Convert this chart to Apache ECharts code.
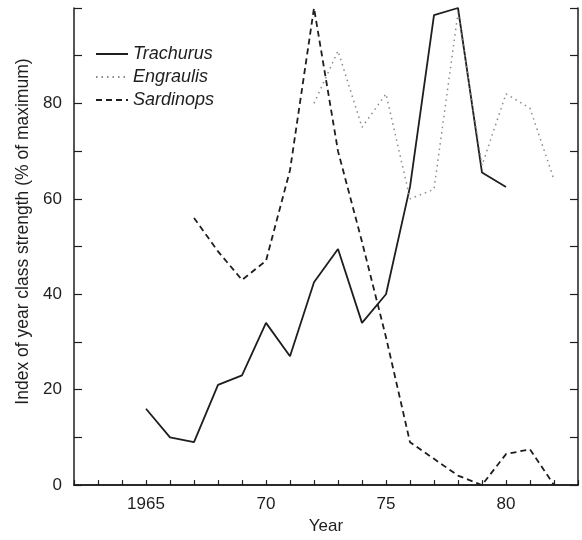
<!DOCTYPE html>
<html>
<head>
<meta charset="utf-8">
<script src="https://cdn.jsdelivr.net/npm/echarts@6/dist/echarts.min.js"></script>
<style>
  html, body { margin: 0; padding: 0; background: #fff; }
  #main { width: 582px; height: 540px; }
</style>
</head>
<body>
<div id="main"></div>
<script>
// year class strength, % of maximum
var trachurusYears = [1965, 1966, 1967, 1968, 1969, 1970, 1971, 1972, 1973, 1974, 1975, 1976, 1977, 1978, 1979, 1980];
var trachurus = [16, 10, 9, 21, 23, 34, 27, 42.5, 49.5, 34, 40, 62.5, 98.5, 100, 65.5, 62.5];

var engraulisYears = [1972, 1973, 1974, 1975, 1976, 1977, 1978, 1979, 1980, 1981, 1982];
var engraulis = [80, 91, 75, 82, 60, 62, 99, 67, 82, 79, 64];

var sardinopsYears = [1967, 1968, 1969, 1970, 1971, 1972, 1973, 1974, 1975, 1976, 1977, 1978, 1979, 1980, 1981, 1982];
var sardinops = [56, 49, 43, 47, 66, 100, 70, 51, 31, 9, 5.5, 2, 0, 6.5, 7.5, 0];

var xLabels = {1965: '1965', 1970: '70', 1975: '75', 1980: '80'};
var yLabels = {0: '0', 20: '20', 40: '40', 60: '60', 80: '80'};

function pairs(xs, ys) {
    var out = [];
    for (var i = 0; i < xs.length; i++) out.push([xs[i], ys[i]]);
    return out;
}

var ink = '#1e1e1e';
var font = '"Liberation Sans", Arial, sans-serif';

var chart = echarts.init(document.getElementById('main'));
chart.setOption({
    animation: false,
    grid: { left: 74, right: 4, top: 8, bottom: 54 },
    legend: {
        orient: 'vertical',
        left: 90,
        top: 40,
        itemGap: 5,
        itemWidth: 32,
        itemHeight: 10,
        itemStyle: { opacity: 0 },
        textStyle: { fontFamily: font, fontSize: 18, fontStyle: 'italic', color: ink },
        data: ['Trachurus', 'Engraulis', 'Sardinops']
    },
    xAxis: [{
        type: 'value',
        min: 1962,
        max: 1983,
        interval: 1,
        name: 'Year',
        nameLocation: 'middle',
        nameGap: 31,
        nameTextStyle: { fontFamily: font, fontSize: 17, color: ink },
        axisLine: { lineStyle: { color: ink, width: 1.5 } },
        axisTick: { inside: true, length: 5, lineStyle: { color: ink, width: 1.2 } },
        axisLabel: {
            margin: 11,
            fontFamily: font, fontSize: 17, color: ink,
            formatter: function (v) { return xLabels[v] || ''; }
        },
        splitLine: { show: false }
    }, {
        type: 'value',
        position: 'top',
        min: 1962,
        max: 1983,
        axisLine: { show: true, lineStyle: { color: ink, width: 1.5 } },
        axisTick: { show: false },
        axisLabel: { show: false },
        splitLine: { show: false }
    }],
    yAxis: [{
        type: 'value',
        min: 0,
        max: 100,
        interval: 10,
        name: 'Index of year class strength (% of maximum)',
        nameLocation: 'middle',
        nameGap: 41,
        nameTextStyle: { fontFamily: font, fontSize: 17.5, color: ink, padding: [0, 0, 0, 30] },
        axisLine: { show: true, lineStyle: { color: ink, width: 1.5 } },
        axisTick: { inside: true, length: 8, lineStyle: { color: ink, width: 1.2 } },
        axisLabel: {
            margin: 12,
            fontFamily: font, fontSize: 17, color: ink,
            formatter: function (v) { return yLabels[v] !== undefined ? yLabels[v] : ''; }
        },
        splitLine: { show: false }
    }, {
        type: 'value',
        position: 'right',
        min: 0,
        max: 100,
        interval: 10,
        axisLine: { show: true, lineStyle: { color: ink, width: 1.5 } },
        axisTick: { inside: true, length: 8, lineStyle: { color: ink, width: 1.2 } },
        axisLabel: { show: false },
        splitLine: { show: false }
    }],
    series: [{
        name: 'Trachurus',
        type: 'line',
        symbol: 'none',
        color: ink,
        lineStyle: { color: ink, width: 1.8, type: 'solid' },
        data: pairs(trachurusYears, trachurus)
    }, {
        name: 'Engraulis',
        type: 'line',
        symbol: 'none',
        color: '#8a8a8a',
        lineStyle: { color: '#8a8a8a', width: 1.5, type: [1.5, 4] },
        data: pairs(engraulisYears, engraulis)
    }, {
        name: 'Sardinops',
        type: 'line',
        symbol: 'none',
        color: ink,
        lineStyle: { color: ink, width: 1.8, type: [6, 4] },
        data: pairs(sardinopsYears, sardinops)
    }]
});
</script>
</body>
</html>
